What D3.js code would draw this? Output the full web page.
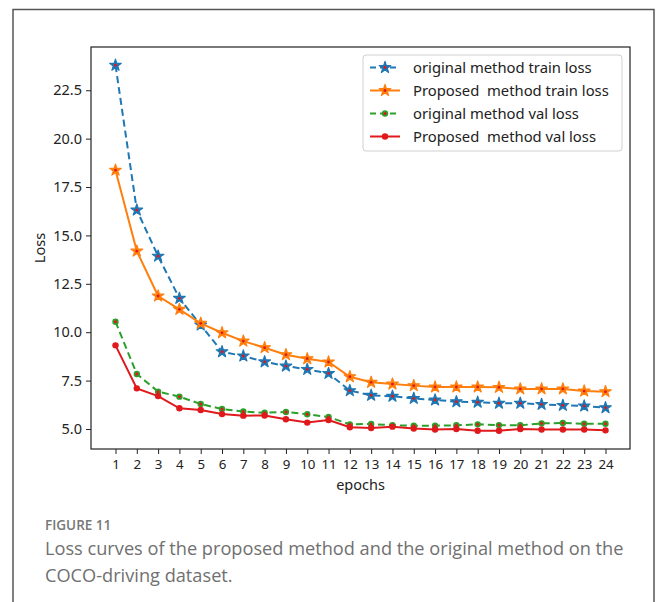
<!DOCTYPE html>
<html>
<head>
<meta charset="utf-8">
<script src="https://cdn.jsdelivr.net/npm/d3@7"></script>
<style>
  body { margin: 0; background: #fff; }
  svg { display: block; }
</style>
</head>
<body>
<svg id="chart" width="661" height="602"></svg>
<script>
const epochs = d3.range(1, 25);
const origTrain = [23.79, 16.31, 13.93, 11.75, 10.37, 8.99, 8.77, 8.47, 8.25, 8.08, 7.87, 6.98,
  6.74, 6.69, 6.58, 6.5, 6.41, 6.38, 6.33, 6.33, 6.27, 6.22, 6.19, 6.1];
const propTrain = [18.37, 14.19, 11.87, 11.18, 10.46, 9.97, 9.54, 9.2, 8.84, 8.63, 8.46, 7.7,
  7.41, 7.32, 7.24, 7.17, 7.17, 7.17, 7.15, 7.07, 7.07, 7.07, 6.96, 6.93];
const origVal = [10.54, 7.84, 6.93, 6.67, 6.29, 6.03, 5.9, 5.84, 5.88, 5.76, 5.62, 5.24,
  5.26, 5.19, 5.17, 5.17, 5.19, 5.24, 5.2, 5.19, 5.29, 5.31, 5.27, 5.27];
const propVal = [9.32, 7.1, 6.7, 6.07, 5.98, 5.77, 5.69, 5.7, 5.5, 5.33, 5.46, 5.09,
  5.05, 5.12, 5.02, 4.97, 5.0, 4.91, 4.91, 5.0, 4.97, 4.97, 4.97, 4.93];
const yTicks = [5.0, 7.5, 10.0, 12.5, 15.0, 17.5, 20.0, 22.5];

const series = [
  { name: 'original method train loss', values: origTrain, color: '#1f77b4', dash: '7,4', marker: 'star' },
  { name: 'Proposed  method train loss', values: propTrain, color: '#ff7f0e', dash: null, marker: 'star' },
  { name: 'original method val loss', values: origVal, color: '#2ca02c', dash: '7,4', marker: 'circle' },
  { name: 'Proposed  method val loss', values: propVal, color: '#e0191c', dash: null, marker: 'circle' }
];

const svg = d3.select('#chart');
const font = '"Noto Sans", "Open Sans", sans-serif';

// outer figure frame
svg.append('rect')
  .attr('x', 13).attr('y', 9.5).attr('width', 641).attr('height', 620)
  .attr('fill', 'none').attr('stroke', '#555').attr('stroke-width', 1.5);

const plot = { left: 91, top: 47, right: 630, bottom: 449 };

const all = series.flatMap(s => s.values);
const yMin = d3.min(all), yMax = d3.max(all);
const yPad = (yMax - yMin) * 0.05;
const x = d3.scaleLinear().domain([1 - 23 * 0.05, 24 + 23 * 0.05]).range([plot.left, plot.right]);
const y = d3.scaleLinear().domain([yMin - yPad, yMax + yPad]).range([plot.bottom, plot.top]);

const xAxis = svg.append('g')
  .attr('transform', `translate(0,${plot.bottom})`)
  .call(d3.axisBottom(x).tickValues(epochs).tickFormat(d3.format('d')).tickSize(5).tickPadding(4));
const yAxis = svg.append('g')
  .attr('transform', `translate(${plot.left},0)`)
  .call(d3.axisLeft(y).tickValues(yTicks).tickFormat(d3.format('.1f')).tickSize(5).tickPadding(4));
[xAxis, yAxis].forEach(a => {
  a.select('.domain').remove();
  a.selectAll('line').attr('stroke', '#222');
  a.selectAll('text').attr('font-family', font).attr('font-size', 14.5).attr('fill', '#222');
});
xAxis.selectAll('text').attr('font-size', 13.3).attr('dy', '0.8em');

svg.append('rect')
  .attr('x', plot.left).attr('y', plot.top)
  .attr('width', plot.right - plot.left).attr('height', plot.bottom - plot.top)
  .attr('fill', 'none').attr('stroke', '#222').attr('stroke-width', 1.2);

svg.append('text')
  .attr('x', (plot.left + plot.right) / 2).attr('y', 490)
  .attr('text-anchor', 'middle').attr('font-family', font).attr('font-size', 14.5).attr('fill', '#222')
  .text('epochs');
svg.append('text')
  .attr('transform', `translate(45,${(plot.top + plot.bottom) / 2}) rotate(-90)`)
  .attr('text-anchor', 'middle').attr('font-family', font).attr('font-size', 14.5).attr('fill', '#222')
  .text('Loss');

const line = d3.line().x((d, i) => x(epochs[i])).y(d => y(d));
const star = d3.symbol().type(d3.symbolStar).size(42);

function drawMarker(g, s, cx, cy) {
  if (s.marker === 'star') {
    g.append('path').attr('d', star()).attr('transform', `translate(${cx},${cy})`)
      .attr('fill', s.color).attr('stroke', s.color).attr('stroke-width', 1.2)
      .attr('stroke-linejoin', 'round');
    g.append('circle').attr('cx', cx).attr('cy', cy).attr('r', 1.4).attr('fill', '#e0191c');
  } else {
    g.append('circle').attr('cx', cx).attr('cy', cy).attr('r', 3.2).attr('fill', s.color);
    g.append('circle').attr('cx', cx).attr('cy', cy).attr('r', 1.5).attr('fill', '#e0191c');
  }
}

series.forEach(s => {
  const g = svg.append('g');
  g.append('path').datum(s.values).attr('d', line)
    .attr('fill', 'none').attr('stroke', s.color).attr('stroke-width', 2)
    .attr('stroke-dasharray', s.dash);
  s.values.forEach((v, i) => drawMarker(g, s, x(epochs[i]), y(v)));
});

// legend
const lg = svg.append('g');
lg.append('rect')
  .attr('x', 363).attr('y', 55).attr('width', 259).attr('height', 96).attr('rx', 3)
  .attr('fill', '#fff').attr('stroke', '#d0d0d0').attr('stroke-width', 1);
series.forEach((s, i) => {
  const cy = 67.5 + i * 23;
  lg.append('line').attr('x1', 370).attr('x2', 400).attr('y1', cy).attr('y2', cy)
    .attr('stroke', s.color).attr('stroke-width', 2).attr('stroke-dasharray', s.dash ? '6,4' : null);
  drawMarker(lg, s, 385, cy);
  lg.append('text').attr('x', 413).attr('y', cy).attr('dy', '0.35em')
    .attr('font-family', font).attr('font-size', 14.8).attr('fill', '#222')
    .style('white-space', 'pre')
    .text(s.name);
});

// caption
svg.append('text').attr('x', 45).attr('y', 530)
  .attr('font-family', '"Open Sans", sans-serif').attr('font-size', 13.5).attr('font-weight', 600)
  .attr('fill', '#777').text('FIGURE 11');
svg.append('text').attr('x', 45).attr('y', 555)
  .attr('font-family', '"Open Sans", sans-serif').attr('font-size', 18.2)
  .attr('fill', '#707070').text('Loss curves of the proposed method and the original method on the');
svg.append('text').attr('x', 45).attr('y', 582)
  .attr('font-family', '"Open Sans", sans-serif').attr('font-size', 18.2)
  .attr('fill', '#707070').text('COCO-driving dataset.');
</script>
</body>
</html>
